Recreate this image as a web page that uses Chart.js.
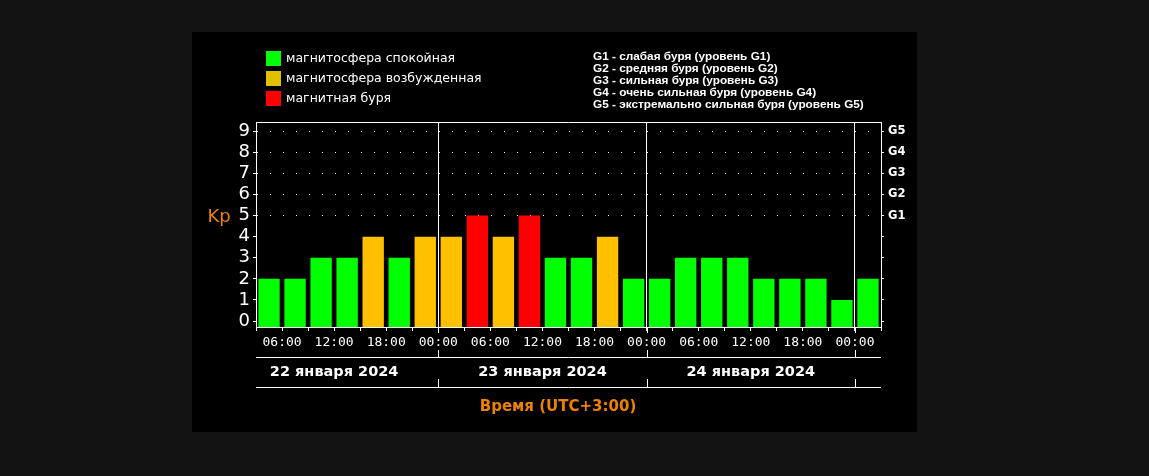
<!DOCTYPE html>
<html>
<head>
<meta charset="utf-8">
<style>
  html, body { margin: 0; padding: 0; background: #131313; }
  #wrap { position: relative; width: 1149px; height: 476px; }
</style>
<script src="https://cdn.jsdelivr.net/npm/chart.js"></script>
</head>
<body>
<div id="wrap"><canvas id="kpChart" width="1149" height="476"></canvas></div>
<script>
// Kp index, 3-hour intervals starting 22 Jan 03:00 (UTC+3)
const kpValues = [2, 2, 3, 3, 4, 3, 4, 4, 5, 4, 5, 3, 3, 4, 2, 2, 3, 3, 3, 2, 2, 2, 1, 2];

const timeTickLabels = [
  '', '06:00', '', '12:00', '', '18:00', '', '00:00',
  '', '06:00', '', '12:00', '', '18:00', '', '00:00',
  '', '06:00', '', '12:00', '', '18:00', '', '00:00', ''
];

const dayLabels = ['22 января 2024', '23 января 2024', '24 января 2024'];
const dayCenters = [3, 11, 19];      // slot index of 12:00 for each day
const dayBoundaries = [7, 15, 23];   // slot index of 00:00

const kpTicks = [0, 1, 2, 3, 4, 5, 6, 7, 8, 9];
const gLabels = ['G1', 'G2', 'G3', 'G4', 'G5'];

const stateLabels = ['магнитосфера спокойная', 'магнитосфера возбужденная', 'магнитная буря'];
const stateColors = ['#00ff00', '#e0c000', '#ff0000'];

const stormLegend = [
  'G1 - слабая буря (уровень G1)',
  'G2 - средняя буря (уровень G2)',
  'G3 - сильная буря (уровень G3)',
  'G4 - очень сильная буря (уровень G4)',
  'G5 - экстремально сильная буря (уровень G5)'
];

const Y_MIN = -0.28;
const Y_MAX = 9.43;
const ORANGE = '#f08000';

function barColor(v) {
  if (v >= 5) return '#ff0000';
  if (v >= 4) return '#ffc000';
  return '#00ff00';
}

// panel background and all the extra text/lines around the plot
const decorations = {
  id: 'decorations',
  beforeDraw(chart) {
    const ctx = chart.ctx;
    ctx.save();
    ctx.fillStyle = '#131313';
    ctx.fillRect(0, 0, chart.width, chart.height);
    ctx.fillStyle = '#000';
    ctx.fillRect(192, 32, 725, 400);
    ctx.restore();
  },
  afterDraw(chart) {
    const ctx = chart.ctx;
    const area = chart.chartArea;
    const x = chart.scales.x;
    const y = chart.scales.y;
    ctx.save();
    ctx.strokeStyle = '#fff';
    ctx.lineWidth = 1;

    // top frame line
    ctx.beginPath();
    ctx.moveTo(area.left, area.top + 0.5);
    ctx.lineTo(area.right, area.top + 0.5);
    ctx.stroke();

    const sep1 = area.bottom + 30;
    const sep2 = area.bottom + 60;

    // day boundary lines running down through the time labels
    dayBoundaries.forEach(b => {
      const px = Math.round(x.getPixelForValue(b)) + 0.5;
      ctx.beginPath();
      ctx.moveTo(px, area.bottom);
      ctx.lineTo(px, area.bottom + 6);
      ctx.moveTo(px, area.bottom + 23);
      ctx.lineTo(px, sep1);
      ctx.moveTo(px, sep2 - 8);
      ctx.lineTo(px, sep2);
      ctx.stroke();
    });

    // separator lines
    [sep1, sep2].forEach(sy => {
      ctx.beginPath();
      ctx.moveTo(area.left, sy + 0.5);
      ctx.lineTo(area.right, sy + 0.5);
      ctx.stroke();
    });

    // day labels
    ctx.fillStyle = '#fff';
    ctx.font = 'bold 14.5px "DejaVu Sans"';
    ctx.textAlign = 'center';
    ctx.textBaseline = 'middle';
    dayLabels.forEach((label, i) => {
      ctx.fillText(label, x.getPixelForValue(dayCenters[i]), area.bottom + 45);
    });

    // axis title
    ctx.fillStyle = ORANGE;
    ctx.font = 'bold 15px "DejaVu Sans"';
    ctx.fillText('Время (UTC+3:00)', 558, area.bottom + 80);

    // Kp label
    ctx.font = '18px "DejaVu Sans"';
    ctx.textBaseline = 'alphabetic';
    ctx.fillText('Kp', 219, y.getPixelForValue(5) + 6);

    // state legend
    ctx.textAlign = 'left';
    ctx.textBaseline = 'middle';
    ctx.font = '12.5px "DejaVu Sans"';
    stateLabels.forEach((label, i) => {
      const cy = 58.5 + i * 20;
      ctx.fillStyle = stateColors[i];
      ctx.fillRect(266, cy - 7.5, 15, 15);
      ctx.fillStyle = '#fff';
      ctx.fillText(label, 286, cy);
    });

    // storm level legend
    ctx.font = 'bold 11.8px "Liberation Sans"';
    stormLegend.forEach((label, i) => {
      ctx.fillText(label, 593, 57 + i * 12);
    });

    ctx.restore();
  }
};

const canvas = document.getElementById('kpChart');
new Chart(canvas.getContext('2d'), {
  type: 'bar',
  data: {
    datasets: [{
      data: kpValues.map((v, i) => ({ x: i + 0.5, y: v })),
      backgroundColor: kpValues.map(barColor),
      base: Y_MIN,
      barPercentage: 0.82,
      categoryPercentage: 1,
      borderWidth: 0
    }]
  },
  options: {
    responsive: false,
    animation: false,
    layout: { padding: { top: 122, left: 0, right: 0, bottom: 0 } },
    plugins: {
      legend: { display: false },
      tooltip: { enabled: false }
    },
    scales: {
      x: {
        type: 'linear',
        min: 0,
        max: 24,
        offset: false,
        afterFit: s => { s.height = 149; },
        afterBuildTicks: s => { s.ticks = timeTickLabels.map((_, i) => ({ value: i })); },
        ticks: {
          autoSkip: false,
          maxRotation: 0,
          padding: 4,
          color: '#fff',
          font: { family: 'DejaVu Sans Mono', size: 13 },
          callback: v => timeTickLabels[v]
        },
        grid: {
          offset: false,
          color: c => (c.tick && dayBoundaries.includes(c.tick.value)) ? '#fff' : 'rgba(0,0,0,0)',
          tickColor: '#fff',
          tickLength: 4
        },
        border: { color: '#fff' }
      },
      y: {
        position: 'left',
        min: Y_MIN,
        max: Y_MAX,
        afterFit: s => { s.width = 256; },
        afterBuildTicks: s => { s.ticks = kpTicks.map(v => ({ value: v })); },
        ticks: {
          autoSkip: false,
          padding: 3,
          color: '#fff',
          font: { family: 'DejaVu Sans', size: 18 }
        },
        grid: {
          color: c => (c.tick && c.tick.value >= 5) ? '#fff' : 'rgba(0,0,0,0)',
          tickColor: '#fff',
          tickLength: 3
        },
        border: { color: '#fff', dash: [1, 12] }
      },
      y2: {
        position: 'right',
        min: Y_MIN,
        max: Y_MAX,
        afterFit: s => { s.width = 268; },
        afterBuildTicks: s => { s.ticks = kpTicks.map(v => ({ value: v })); },
        ticks: {
          autoSkip: false,
          padding: 4,
          color: '#fff',
          font: { family: 'DejaVu Sans', size: 11.5, weight: 'bold' },
          callback: v => v >= 5 ? gLabels[v - 5] : ''
        },
        grid: {
          drawOnChartArea: false,
          color: '#fff',
          tickLength: 3
        },
        border: { color: '#fff' }
      }
    }
  },
  plugins: [decorations]
});
</script>
</body>
</html>
